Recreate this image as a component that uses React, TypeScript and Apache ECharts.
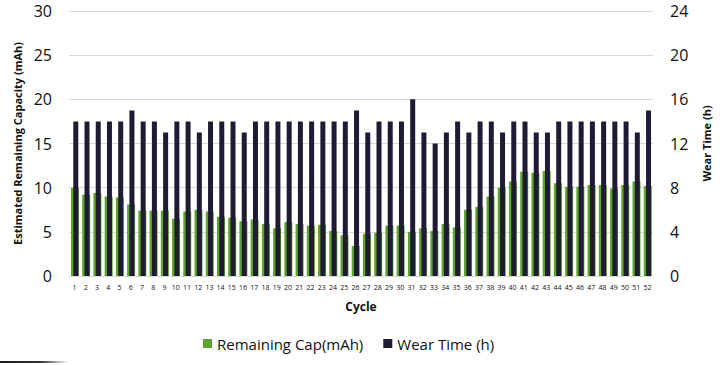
import React, { useEffect, useRef } from "react";
import * as echarts from "echarts";

const cycles: string[] = Array.from({ length: 52 }, (_, i) => String(i + 1));

const remainingCap: number[] = [
  10.0, 9.2, 9.4, 9.0, 8.9, 8.1, 7.4, 7.4, 7.4, 6.5,
  7.3, 7.5, 7.3, 6.7, 6.6, 6.2, 6.4, 5.9, 5.4, 6.1,
  5.9, 5.7, 5.8, 5.1, 4.6, 3.4, 4.8, 4.9, 5.7, 5.7,
  5.0, 5.4, 5.1, 5.9, 5.5, 7.5, 7.8, 9.0, 10.0, 10.7,
  11.8, 11.7, 11.9, 10.5, 10.1, 10.1, 10.3, 10.3, 9.9, 10.3,
  10.7, 10.2,
];

const wearTime: number[] = [
  14, 14, 14, 14, 14, 15, 14, 14, 13, 14,
  14, 13, 14, 14, 14, 13, 14, 14, 14, 14,
  14, 14, 14, 14, 14, 15, 13, 14, 14, 14,
  16, 13, 12, 13, 14, 13, 14, 14, 13, 14,
  14, 13, 13, 14, 14, 14, 14, 14, 14, 14,
  13, 15,
];

const leftTicks = { min: 0, max: 30, interval: 5 };
const rightTicks = { min: 0, max: 24, interval: 4 };

const GREEN = "#5ea62a";
const DARK = "#1f1b35";
const FONT = "'Open Sans', 'Noto Sans', sans-serif";

export default function App() {
  const ref = useRef<HTMLDivElement>(null);

  useEffect(() => {
    if (!ref.current) return;
    const chart = echarts.init(ref.current, null, { renderer: "svg" });
    chart.setOption({
      animation: false,
      backgroundColor: "#ffffff",
      textStyle: { fontFamily: FONT },
      grid: { left: 69, right: 62, top: 11, bottom: 89, containLabel: false },
      legend: {
        left: 198,
        top: 331,
        itemWidth: 9,
        itemHeight: 9,
        itemGap: 20,
        icon: "rect",
        textStyle: { fontSize: 15, color: "#111", fontFamily: FONT },
        data: ["Remaining Cap(mAh)", "Wear Time (h)"],
      },
      xAxis: {
        type: "category",
        data: cycles,
        name: "Cycle",
        nameLocation: "middle",
        nameGap: 24,
        nameTextStyle: { fontSize: 12, fontWeight: "bold", color: "#111", fontFamily: FONT },
        axisLine: { show: true, lineStyle: { color: "#d9d9d9" } },
        axisTick: { show: false },
        axisLabel: { fontSize: 7, color: "#111", margin: 8, interval: 0, fontFamily: FONT },
      },
      yAxis: [
        {
          type: "value",
          position: "left",
          min: leftTicks.min,
          max: leftTicks.max,
          interval: leftTicks.interval,
          name: "Estimated Remaining Capacity (mAh)",
          nameLocation: "middle",
          nameGap: 44,
          nameTextStyle: { fontSize: 11, fontWeight: "bold", color: "#111", fontFamily: FONT },
          axisLine: { show: false },
          axisTick: { show: false },
          axisLabel: { fontSize: 16, color: "#111", margin: 17, fontFamily: FONT },
          splitLine: { show: true, lineStyle: { color: "#d9d9d9", width: 1 } },
        },
        {
          type: "value",
          position: "right",
          min: rightTicks.min,
          max: rightTicks.max,
          interval: rightTicks.interval,
          name: "Wear Time (h)",
          nameLocation: "middle",
          nameGap: 48,
          nameTextStyle: { fontSize: 11, fontWeight: "bold", color: "#111", fontFamily: FONT },
          axisLine: { show: false },
          axisTick: { show: false },
          axisLabel: { fontSize: 16, color: "#111", margin: 17, fontFamily: FONT },
          splitLine: { show: false },
        },
      ],
      series: [
        {
          name: "Remaining Cap(mAh)",
          type: "bar",
          yAxisIndex: 0,
          data: remainingCap,
          barWidth: 8,
          barGap: "-71%",
          itemStyle: { color: GREEN },
        },
        {
          name: "Wear Time (h)",
          type: "bar",
          yAxisIndex: 1,
          data: wearTime,
          barWidth: 5,
          barGap: "-71%",
          itemStyle: { color: DARK },
        },
      ],
      graphic: [
        {
          type: "rect",
          left: 0,
          top: 361,
          shape: { width: 68, height: 2 },
          style: {
            fill: new echarts.graphic.LinearGradient(0, 0, 1, 0, [
              { offset: 0, color: "rgba(0,0,0,0.9)" },
              { offset: 0.6, color: "rgba(0,0,0,0.8)" },
              { offset: 1, color: "rgba(0,0,0,0)" },
            ]),
          },
          silent: true,
        },
      ],
    });
    return () => chart.dispose();
  }, []);

  return (
    <div
      ref={ref}
      style={{ position: "fixed", left: 0, top: 0, width: 720, height: 365 }}
    />
  );
}
